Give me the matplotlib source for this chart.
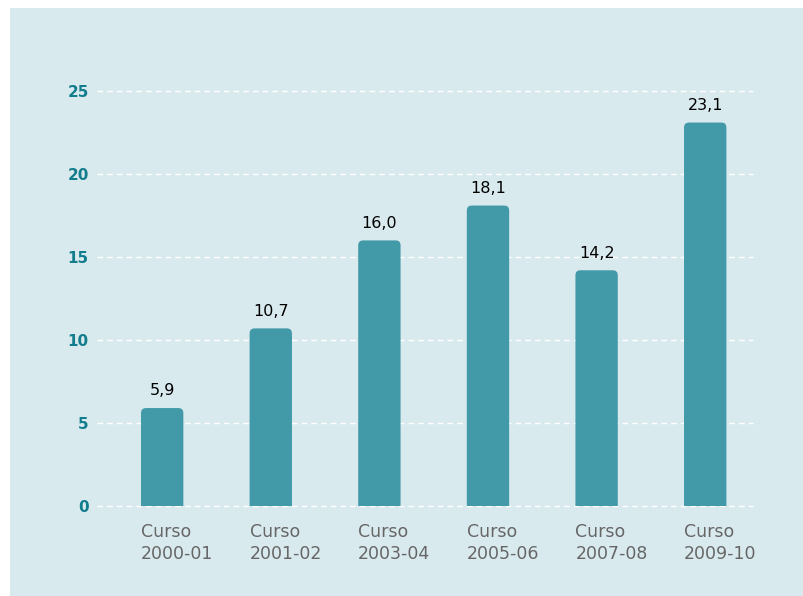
import matplotlib
matplotlib.use("Agg")
import matplotlib.pyplot as plt
from matplotlib.patches import PathPatch, Rectangle
from matplotlib.path import Path

categories = ["Curso\n2000-01", "Curso\n2001-02", "Curso\n2003-04",
              "Curso\n2005-06", "Curso\n2007-08", "Curso\n2009-10"]
values = [5.9, 10.7, 16.0, 18.1, 14.2, 23.1]
value_labels = ["5,9", "10,7", "16,0", "18,1", "14,2", "23,1"]
yticks = [0, 5, 10, 15, 20, 25]

BG = "#d9eaee"
BAR = "#4299a8"
TEAL = "#127d8c"
GRAY = "#666666"

plt.rcParams["font.family"] = ["DejaVu Sans"]

fig = plt.figure(figsize=(8.04, 5.96), dpi=100)
fig.patch.set_facecolor("white")
# light panel behind the chart
fig.patches.append(Rectangle((10 / 804, 0), 1, 1 - 8 / 596, transform=fig.transFigure,
                             facecolor=BG, edgecolor="none", zorder=-5))

W, H = 804, 596
left, right = 97 / W, 753 / W
bottom, top = 1 - 506 / H, 1 - 91 / H
ax = fig.add_axes([left, bottom, right - left, top - bottom])
ax.set_facecolor("none")
ax.set_zorder(1)

xlim = (-0.6, 5.44)
ylim = (0, 25)
ax.set_xlim(*xlim)
ax.set_ylim(*ylim)

bar_w = 0.39
px_x = (right - left) * W / (xlim[1] - xlim[0])
px_y = (top - bottom) * H / (ylim[1] - ylim[0])
r_px = 5
rx = r_px / px_x
ry = r_px / px_y


def rounded_top_bar(x0, width, height):
    """Bar path with rounded top corners and a square base."""
    x1 = x0 + width
    verts = [(x0, 0), (x0, height - ry), (x0, height), (x0 + rx, height),
             (x1 - rx, height), (x1, height), (x1, height - ry), (x1, 0), (x0, 0)]
    codes = [Path.MOVETO, Path.LINETO, Path.CURVE3, Path.CURVE3,
             Path.LINETO, Path.CURVE3, Path.CURVE3, Path.LINETO, Path.CLOSEPOLY]
    return Path(verts, codes)


for t in yticks:
    ax.axhline(t, color="white", lw=1, ls=(0, (4, 3)), zorder=1, clip_on=False)

for i, v in enumerate(values):
    x0 = i - bar_w / 2
    ax.add_patch(PathPatch(rounded_top_bar(x0, bar_w, v), facecolor=BAR,
                           edgecolor="none", zorder=3))
    ax.annotate(value_labels[i], (i, v), xytext=(0, 7), textcoords="offset points",
                ha="center", va="bottom", fontsize=11.5, color="black", zorder=4)

ax.set_yticks(yticks)
ax.set_yticklabels([str(t) for t in yticks], color=TEAL, fontsize=11, fontweight="bold")
ax.tick_params(axis="y", length=0, pad=6)

ax.set_xticks([i - bar_w / 2 for i in range(len(categories))])
ax.set_xticklabels(categories, color=GRAY, fontsize=12.5, ha="left",
                   linespacing=1.3)
ax.tick_params(axis="x", length=0, pad=12)

for s in ax.spines.values():
    s.set_visible(False)

fig.savefig("out.png", dpi=100, facecolor=fig.get_facecolor())
